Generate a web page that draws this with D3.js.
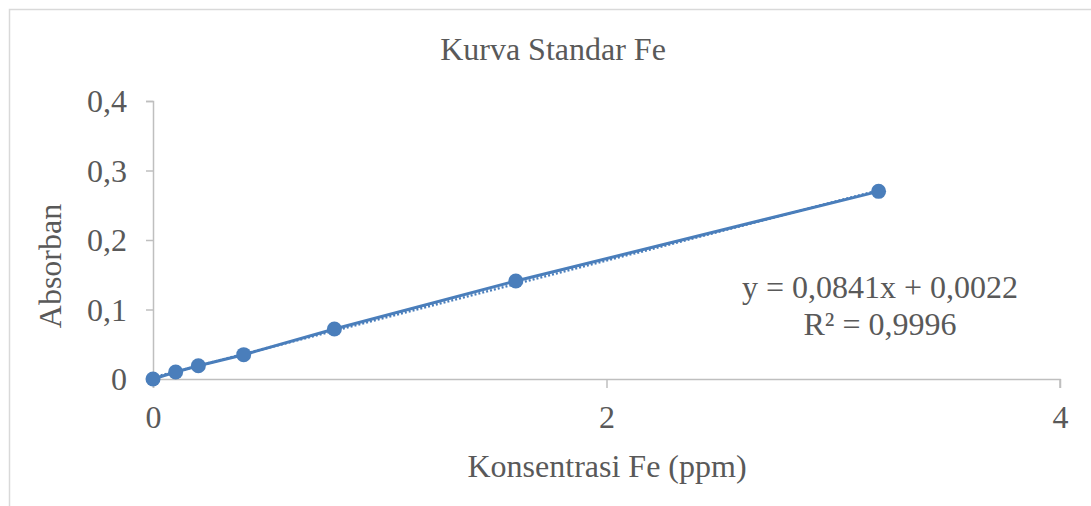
<!DOCTYPE html>
<html>
<head>
<meta charset="utf-8">
<script src="https://cdn.jsdelivr.net/npm/d3@7"></script>
<style>
    body { margin: 0; background: #fff; }
    #chart { width: 1091px; height: 506px; }
    text { font-family: "Liberation Serif", "Times New Roman", serif; fill: #595959; }
</style>
</head>
<body>
<div id="chart"></div>
<script>
// data
let konsentrasi = [0, 0.1, 0.2, 0.4, 0.8, 1.6, 3.2];
let absorban = [0, 0.010, 0.019, 0.035, 0.072, 0.141, 0.270];
let xTicks = [0, 2, 4];
let yTicks = [0, 0.1, 0.2, 0.3, 0.4];
let slope = 0.0841, intercept = 0.0022;
let eqLines = ["y = 0,0841x + 0,0022", "R² = 0,9996"];

let margin = {top: 101, right: 31, bottom: 127, left: 153};
let width = 1091 - margin.left - margin.right;
let height = 506 - margin.top - margin.bottom;
let fontSize = "32px";

let svg = d3.select("#chart").append("svg")
    .attr("width", 1091)
    .attr("height", 506);

// chart border
svg.append("rect")
    .attr("x", 9.5).attr("y", 9.5)
    .attr("width", 1100).attr("height", 520)
    .attr("fill", "none")
    .attr("stroke", "#d9d9d9")
    .attr("stroke-width", 1.5);

let g = svg.append("g")
    .attr("transform", `translate(${margin.left}, ${margin.top})`);

let x = d3.scaleLinear().domain([0, 4]).range([0, width]);
let y = d3.scaleLinear().domain([0, 0.4]).range([height, 0]);

let comma = d => String(d).replace(".", ",");

// axes
let xAxis = d3.axisBottom(x).tickValues(xTicks).tickSize(9).tickFormat(comma);
let yAxis = d3.axisLeft(y).tickValues(yTicks).tickSize(7).tickFormat(comma);

let gx = g.append("g")
    .attr("transform", `translate(0, ${height})`)
    .call(xAxis);
let gy = g.append("g").call(yAxis);

[gx, gy].forEach(a => {
    a.select(".domain").attr("stroke", "#bfbfbf").attr("stroke-width", 1.5);
    a.selectAll(".tick line").attr("stroke", "#bfbfbf").attr("stroke-width", 1.5);
    a.selectAll(".tick text")
        .style("font-family", '"Liberation Serif", serif')
        .style("font-size", fontSize)
        .attr("fill", "#595959");
});
gx.select(".domain").attr("d", `M0.5,9V0.5H${width}V9`);
gy.select(".domain").attr("d", `M-7,0.5H0.5V${height}`);
gx.selectAll(".tick text").attr("y", 26);
gy.selectAll(".tick text").attr("x", -26).attr("dy", "0.33em");

// trendline (dotted)
g.append("line")
    .attr("x1", x(0)).attr("y1", y(intercept))
    .attr("x2", x(3.2)).attr("y2", y(slope * 3.2 + intercept))
    .attr("stroke", "#4a7ebb")
    .attr("stroke-width", 2.5)
    .attr("stroke-dasharray", "2,2");

// data line
let pts = konsentrasi.map((k, i) => ({k: k, a: absorban[i]}));
g.append("path")
    .datum(pts)
    .attr("fill", "none")
    .attr("stroke", "#4a7ebb")
    .attr("stroke-width", 3)
    .attr("d", d3.line().x(d => x(d.k)).y(d => y(d.a)));

g.selectAll("circle")
    .data(pts)
    .enter().append("circle")
    .attr("cx", d => x(d.k))
    .attr("cy", d => y(d.a))
    .attr("r", 7.5)
    .attr("fill", "#4a7ebb");

// title
svg.append("text")
    .attr("x", 553).attr("y", 60)
    .attr("text-anchor", "middle")
    .style("font-size", fontSize)
    .text("Kurva Standar Fe");

// axis titles
svg.append("text")
    .attr("x", 607).attr("y", 477)
    .attr("text-anchor", "middle")
    .style("font-size", fontSize)
    .text("Konsentrasi Fe (ppm)");

svg.append("text")
    .attr("transform", "translate(61, 266) rotate(-90)")
    .attr("text-anchor", "middle")
    .style("font-size", fontSize)
    .text("Absorban");

// equation
svg.append("g").selectAll("text")
    .data(eqLines)
    .enter().append("text")
    .attr("x", 880)
    .attr("y", (d, i) => 298 + i * 37)
    .attr("text-anchor", "middle")
    .style("font-size", fontSize)
    .text(d => d);
</script>
</body>
</html>
